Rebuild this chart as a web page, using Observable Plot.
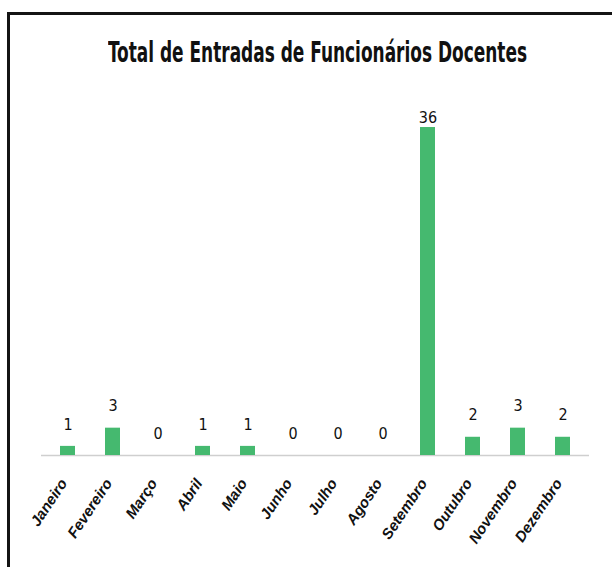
<!DOCTYPE html>
<html>
<head>
<meta charset="utf-8">
<script src="https://cdn.jsdelivr.net/npm/d3@7"></script>
<script src="https://cdn.jsdelivr.net/npm/@observablehq/plot@0.6"></script>
<style>
  html, body { margin: 0; padding: 0; background: #fff; }
  #wrap { position: relative; width: 612px; height: 567px; overflow: hidden; background: #fff; }
  #frame { position: absolute; left: 7px; top: 12px; width: 620px; height: 600px;
           border-left: 3px solid #141414; border-top: 3px solid #141414; }
  #title { position: absolute; left: 108px; top: 38px; white-space: nowrap;
           font-family: "Liberation Sans Narrow", "Arial Narrow", "DejaVu Sans Condensed", sans-serif;
           font-weight: bold; font-size: 29px; color: #111; transform-origin: 0 0; line-height: 1; }
  #chart { position: absolute; left: 0; top: 90px; }
</style>
</head>
<body>
<div id="wrap">
  <div id="frame"></div>
  <div id="title"><span id="titleText">Total de Entradas de Funcionários Docentes</span></div>
  <div id="chart"></div>
</div>
<script>
const months = ["Janeiro","Fevereiro","Março","Abril","Maio","Junho","Julho","Agosto","Setembro","Outubro","Novembro","Dezembro"];
const values = [1, 3, 0, 1, 1, 0, 0, 0, 36, 2, 3, 2];

const data = months.map((m, i) => ({month: m, value: values[i]}));

const chart = Plot.plot({
  width: 612,
  height: 477,
  marginLeft: 41,
  marginRight: 23,
  marginTop: 27,
  marginBottom: 112,
  style: {background: "transparent"},
  x: {domain: months, paddingInner: 0.67, paddingOuter: 0.335, label: null},
  y: {domain: [0, 37.1], axis: null, clamp: true},
  marks: [
    Plot.ruleY([0], {stroke: "#cfcfcf", strokeWidth: 1.5}),
    Plot.barY(data, {x: "month", y: "value", fill: "#45b96f"}),
    Plot.text(data, {x: "month", y: d => d.value + 2.41, text: d => String(d.value),
      fontSize: 16, fill: "#111",
      fontFamily: "'Liberation Sans Narrow', 'Arial Narrow', 'DejaVu Sans Condensed', sans-serif"}),
    Plot.axisX({tickSize: 0, tickPadding: 25, dx: -4, tickRotate: -56, label: null,
      fontSize: 15, fontWeight: "bold", fontStyle: "italic", fill: "#111",
      fontFamily: "'Liberation Sans', Arial, sans-serif"})
  ]
});
document.getElementById("chart").appendChild(chart);
chart.querySelectorAll('g[aria-label="x-axis tick label"]').forEach(g => {
  g.setAttribute("font-style", "italic");
  g.style.fontStyle = "italic";
  g.querySelectorAll("text").forEach(tx => { tx.style.fontStyle = "italic"; tx.style.fontWeight = "bold"; });
});

const t = document.getElementById("titleText");
const w = t.getBoundingClientRect().width;
document.getElementById("title").style.transform = `scaleX(${419 / w})`;
</script>
</body>
</html>
